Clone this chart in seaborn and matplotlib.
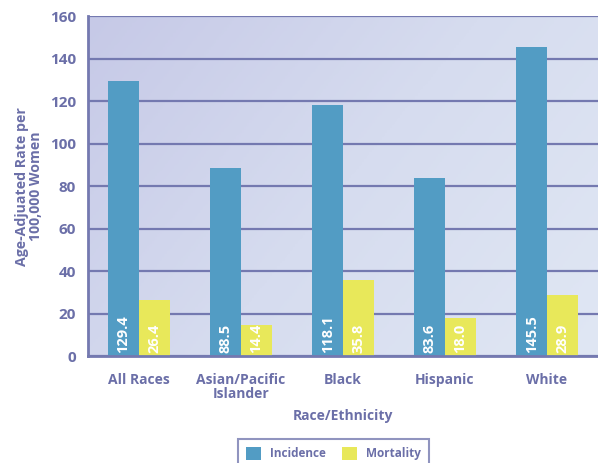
import numpy as np
import matplotlib
matplotlib.use('Agg')
import matplotlib.pyplot as plt
import pandas as pd
import seaborn as sns
from matplotlib.colors import LinearSegmentedColormap

sns.set_style('white')
plt.rcParams['font.family'] = ['Open Sans', 'DejaVu Sans']

# 데이터
races = ['All Races', 'Asian/Pacific\nIslander', 'Black', 'Hispanic', 'White']
incidence = [129.4, 88.5, 118.1, 83.6, 145.5]
mortality = [26.4, 14.4, 35.8, 18.0, 28.9]
series = ['Incidence', 'Mortality']
yticks = [0, 20, 40, 60, 80, 100, 120, 140, 160]

df = pd.DataFrame({'Race': races * 2,
                   'Measure': ['Incidence'] * 5 + ['Mortality'] * 5,
                   'Rate': incidence + mortality})

txt = '#6b6fa8'
line = '#7479b0'
pal = {'Incidence': '#529cc4', 'Mortality': '#e8e85a'}

fig = plt.figure(figsize=(5.98, 4.63), dpi=100)
ax = fig.add_axes([0.147, 0.231, 0.853, 0.734])

# 배경 그라데이션
cmap = LinearSegmentedColormap.from_list('bg', ['#c6c9e7', '#d6dcef', '#e0e7f4'])
gx, gy = np.meshgrid(np.linspace(0, 1, 200), np.linspace(0, 1, 200))
grad = 0.65 * gx + 0.35 * gy
ax.imshow(grad, cmap=cmap, extent=[-0.5, 4.5, 0, 160], aspect='auto',
          origin='upper', zorder=0)

sns.barplot(data=df, x='Race', y='Rate', hue='Measure', palette=pal,
            width=0.6, saturation=1, ax=ax, zorder=3, legend=True,
            edgecolor='none', linewidth=0)

for c in ax.containers:
    for b in c:
        v = b.get_height()
        ax.text(b.get_x() + b.get_width() / 2, 1.5, f'{v:.1f}', rotation=90,
                ha='center', va='bottom', color='white', fontsize=10.5,
                fontweight='bold', zorder=5)

ax.set_xlim(-0.5, 4.5)
ax.set_ylim(0, 160)
ax.set_yticks(yticks)
ax.yaxis.grid(True, color=line, linewidth=1.6, zorder=1)
ax.set_axisbelow(True)
ax.tick_params(axis='y', colors=line, labelcolor=txt, labelsize=11,
               length=5, width=1.5, direction='out')
for lab in ax.get_yticklabels():
    lab.set_fontweight('bold')

ax.set_xticks(np.arange(5))
ax.set_xticklabels(races, fontsize=10, fontweight='bold', color=txt,
                   linespacing=1.0)
ax.set_xticks(np.arange(-0.5, 5, 1), minor=True)
ax.tick_params(axis='x', which='major', length=0, pad=12)
ax.tick_params(axis='x', which='minor', length=6, width=1.5, color=line,
               direction='out')

for s in ['top', 'right']:
    ax.spines[s].set_visible(False)
for s in ['left', 'bottom']:
    ax.spines[s].set_color(line)
    ax.spines[s].set_linewidth(2)
    ax.spines[s].set_zorder(4)

ax.set_xlabel('Race/Ethnicity', fontsize=10, fontweight='bold', color=txt,
              labelpad=6)
ax.set_ylabel('Age-Adjuated Rate per\n100,000 Women', fontsize=10.2,
              fontweight='bold', color=txt, labelpad=5, linespacing=1.0)

h, l = ax.get_legend_handles_labels()
ax.legend_.remove()
leg = fig.legend(h, series, loc='lower center', bbox_to_anchor=(0.558, -0.025),
                 ncol=2, frameon=True, fancybox=False, fontsize=8.5,
                 handlelength=1.2, handleheight=1.3, columnspacing=1.4,
                 handletextpad=0.8, borderpad=0.7)
leg.get_frame().set_edgecolor(line)
leg.get_frame().set_linewidth(1.5)
for t in leg.get_texts():
    t.set_color(txt)
    t.set_fontweight('bold')

fig.savefig('out.png', dpi=100)
